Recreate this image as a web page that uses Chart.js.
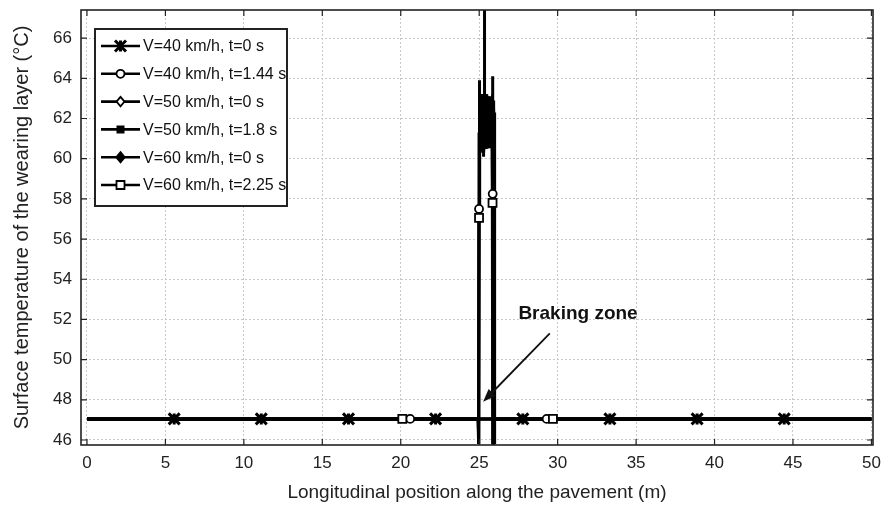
<!DOCTYPE html>
<html><head><meta charset="utf-8">
<script src="https://cdn.jsdelivr.net/npm/chart.js@4.4.1/dist/chart.umd.min.js"></script>
<style>html,body{margin:0;padding:0;background:#fff;}#wrap{width:885px;height:508px;}</style>
</head><body><div id="wrap"><canvas id="c" width="885" height="508"></canvas></div>
<script>
// ---------- data ----------
const xTicks = [0, 5, 10, 15, 20, 25, 30, 35, 40, 45, 50];
const yTicks = [46, 48, 50, 52, 54, 56, 58, 60, 62, 64, 66];
const xTitle = 'Longitudinal position along the pavement (m)';
const yTitle = 'Surface temperature of the wearing layer (°C)';
const seriesNames = ['V=40 km/h, t=0 s', 'V=40 km/h, t=1.44 s', 'V=50 km/h, t=0 s',
                     'V=50 km/h, t=1.8 s', 'V=60 km/h, t=0 s', 'V=60 km/h, t=2.25 s'];

// V=40 km/h, t=0 s
const s1x = [0, 5.56, 11.11, 16.67, 22.22, 27.78, 33.33, 38.89, 44.44, 50];
const s1y = [47.05, 47.05, 47.05, 47.05, 47.05, 47.05, 47.05, 47.05, 47.05, 47.05];
const s1mx = [5.56, 11.11, 16.67, 22.22, 27.78, 33.33, 38.89, 44.44];

// V=40 km/h, t=1.44 s
const s2x = [0, 20.6, 24.93, 24.96, 24.99, 25.0,
  25.02, 25.04, 25.06, 25.08, 25.10, 25.12, 25.14, 25.16, 25.18, 25.20, 25.22, 25.24, 25.26, 25.28,
  25.30, 25.32, 25.34, 25.36, 25.38, 25.40, 25.42, 25.44, 25.46, 25.48, 25.50, 25.52, 25.54, 25.56,
  25.58, 25.60, 25.62, 25.64, 25.66, 25.68, 25.70, 25.72, 25.74, 25.76, 25.78, 25.80, 25.82, 25.84,
  25.86, 25.88, 25.92, 29.3, 50];
const s2y = [47.05, 47.05, 47.05, 45.8, 57.5, 63.9,
  60.9, 62.9, 60.6, 63.1, 61.0, 62.8, 60.5, 63.2, 60.8, 62.9, 60.6, 63.0, 60.9, 63.2,
  60.4, 62.8, 60.7, 63.1, 60.9, 62.9, 60.5, 63.0, 60.8, 63.2, 60.6, 62.9, 61.0, 63.1,
  60.7, 62.8, 60.9, 63.0, 60.6, 62.9, 61.0, 63.1, 60.8, 62.7, 61.1, 62.9, 61.2, 63.2,
  58.25, 45.8, 47.05, 47.05, 47.05];
const s2mx = [20.6, 24.99, 25.86, 29.3];

// V=50 km/h, t=0 s
const s3x = [0, 50];
const s3y = [47.05, 47.05];
const s3mx = [];

// V=50 km/h, t=1.8 s
const s4x = [0, 24.94, 24.97, 24.99,
  25.01, 25.03, 25.05, 25.07, 25.09, 25.11, 25.13, 25.15, 25.17, 25.19, 25.21, 25.23, 25.25, 25.27,
  25.29, 25.31, 25.33, 25.35, 25.37, 25.39, 25.41, 25.43, 25.45, 25.47, 25.49, 25.51, 25.53, 25.55,
  25.57, 25.59, 25.61, 25.63, 25.65, 25.67, 25.69, 25.71, 25.73, 25.75, 25.77, 25.79, 25.81, 25.83,
  25.85, 25.87, 25.89, 25.91, 25.93, 25.95, 25.97,
  25.98, 26.0, 50];
const s4y = [47.05, 47.05, 45.8, 61.3,
  62.7, 60.8, 63.0, 60.5, 62.9, 61.0, 63.2, 60.6, 62.8, 60.9, 63.1, 60.3, 62.9, 60.1,
  62.6, 60.7, 68.0, 60.9, 63.0, 60.5, 62.8, 60.8, 63.2, 60.6, 62.9, 61.0, 63.1, 60.7,
  62.8, 60.9, 63.0, 60.6, 62.9, 61.1, 63.1, 60.8, 62.7, 61.0, 63.0, 61.2, 62.8, 61.4,
  64.1, 61.6, 62.9, 61.5, 62.6, 61.7, 62.3,
  45.8, 47.05, 47.05];
const s4mx = [];

// V=60 km/h, t=0 s
const s5x = [0, 50];
const s5y = [47.05, 47.05];
const s5mx = [];

// V=60 km/h, t=2.25 s
const s6x = [0, 20.1, 24.94, 24.97, 24.99, 25.01,
  25.03, 25.05, 25.07, 25.09, 25.11, 25.13, 25.15, 25.17, 25.19, 25.21, 25.23, 25.25, 25.27, 25.29,
  25.31, 25.33, 25.35, 25.37, 25.39, 25.41, 25.43, 25.45, 25.47, 25.49, 25.51, 25.53, 25.55, 25.57,
  25.59, 25.61, 25.63, 25.65, 25.67, 25.69, 25.71, 25.73, 25.75, 25.77, 25.79, 25.81, 25.83,
  25.85, 25.87, 25.92, 29.7, 50];
const s6y = [47.05, 47.05, 47.05, 45.8, 57.05, 61.6,
  60.4, 63.0, 60.9, 62.8, 60.6, 63.2, 61.0, 62.9, 60.5, 63.1, 60.8, 62.7, 60.3, 63.0,
  60.9, 62.9, 60.6, 63.2, 60.8, 62.8, 61.0, 63.1, 60.5, 62.9, 60.9, 63.0, 60.7, 62.8,
  61.1, 63.1, 60.8, 62.9, 61.0, 62.7, 61.2, 63.0, 61.1, 62.8, 61.3, 62.9, 61.4,
  57.8, 45.8, 47.05, 47.05, 47.05];
const s6mx = [20.1, 24.99, 25.85, 29.7];

const annotText = 'Braking zone';
const annotTextPos = [31.3, 52.3];
const arrowFrom = [29.5, 51.3];
const arrowTo = [25.25, 47.9];

// ---------- styles ----------
const markerStyles = [
  {style: 'star', r: 5.5, fill: '#000', lw: 3},
  {style: 'circle', r: 4, fill: '#fff', lw: 1.8},
  {style: 'diamond', r: 4, fill: '#fff', lw: 1.8},
  {style: 'rect', r: 3.4, fill: '#000', lw: 1.2},
  {style: 'diamond', r: 4.6, fill: '#000', lw: 1.2},
  {style: 'rect', r: 4, fill: '#fff', lw: 1.8}
];
const allX = [s1x, s2x, s3x, s4x, s5x, s6x];
const allY = [s1y, s2y, s3y, s4y, s5y, s6y];
const allM = [s1mx, s2mx, s3mx, s4mx, s5mx, s6mx];

function drawMarker(ctx, m, x, y) {
  ctx.save();
  ctx.lineWidth = m.lw;
  ctx.strokeStyle = '#000';
  ctx.fillStyle = m.fill;
  const r = m.r;
  ctx.beginPath();
  if (m.style === 'star') {
    ctx.moveTo(x - r, y - r); ctx.lineTo(x + r, y + r);
    ctx.moveTo(x - r, y + r); ctx.lineTo(x + r, y - r);
    ctx.moveTo(x, y - r); ctx.lineTo(x, y + r);
    ctx.stroke();
  } else if (m.style === 'circle') {
    ctx.arc(x, y, r, 0, Math.PI * 2); ctx.fill(); ctx.stroke();
  } else if (m.style === 'rect') {
    ctx.rect(x - r, y - r, 2 * r, 2 * r); ctx.fill(); ctx.stroke();
  } else if (m.style === 'diamond') {
    ctx.moveTo(x, y - r * 1.2); ctx.lineTo(x + r, y); ctx.lineTo(x, y + r * 1.2); ctx.lineTo(x - r, y); ctx.closePath();
    ctx.fill(); ctx.stroke();
  }
  ctx.restore();
}

const datasets = seriesNames.map((name, i) => ({
  label: name,
  data: allX[i].map((x, k) => ({x: x, y: allY[i][k]})),
  borderColor: '#000',
  borderWidth: 3,
  pointRadius: 0,
  pointHoverRadius: 0,
  tension: 0,
  fill: false,
  markerIdx: allM[i].map(mx => allX[i].indexOf(mx))
}));

const markerPlugin = {
  id: 'markers',
  afterDatasetsDraw(chart) {
    const ctx = chart.ctx, a = chart.chartArea;
    ctx.save();
    ctx.beginPath(); ctx.rect(a.left, a.top, a.right - a.left, a.bottom - a.top); ctx.clip();
    chart.data.datasets.forEach((ds, i) => {
      const meta = chart.getDatasetMeta(i);
      ds.markerIdx.forEach(k => {
        const el = meta.data[k];
        if (el) drawMarker(ctx, markerStyles[i], el.x, el.y);
      });
    });
    ctx.restore();
  }
};

const boxPlugin = {
  id: 'box',
  afterDraw(chart) {
    const ctx = chart.ctx, a = chart.chartArea;
    const xs = chart.scales.x, ys = chart.scales.y;
    ctx.save();
    ctx.strokeStyle = '#222';
    ctx.lineWidth = 1.6;
    ctx.strokeRect(a.left, a.top, a.right - a.left, a.bottom - a.top);
    ctx.lineWidth = 1.2;
    ctx.beginPath();
    xTicks.forEach(v => {
      const px = xs.getPixelForValue(v);
      ctx.moveTo(px, a.bottom); ctx.lineTo(px, a.bottom - 6);
      ctx.moveTo(px, a.top); ctx.lineTo(px, a.top + 6);
    });
    yTicks.forEach(v => {
      const py = ys.getPixelForValue(v);
      ctx.moveTo(a.left, py); ctx.lineTo(a.left + 6, py);
      ctx.moveTo(a.right, py); ctx.lineTo(a.right - 6, py);
    });
    ctx.stroke();
    ctx.restore();
  }
};

const legendPlugin = {
  id: 'customLegend',
  afterDraw(chart) {
    const ctx = chart.ctx;
    const L = 95, T = 29, W = 192, H = 177;
    ctx.save();
    ctx.fillStyle = '#fff';
    ctx.fillRect(L, T, W, H);
    ctx.strokeStyle = '#222';
    ctx.lineWidth = 2;
    ctx.strokeRect(L, T, W, H);
    ctx.font = '16px "Liberation Sans", Arial, sans-serif';
    ctx.textBaseline = 'middle';
    seriesNames.forEach((name, i) => {
      const y = 46 + i * 27.8;
      ctx.strokeStyle = '#000';
      ctx.lineWidth = 2.6;
      ctx.beginPath(); ctx.moveTo(101, y); ctx.lineTo(140, y); ctx.stroke();
      drawMarker(ctx, markerStyles[i], 120.5, y);
      ctx.fillStyle = '#111';
      ctx.fillText(name, 143, y + 1);
    });
    ctx.restore();
  }
};

const annotPlugin = {
  id: 'annot',
  afterDraw(chart) {
    const ctx = chart.ctx, xs = chart.scales.x, ys = chart.scales.y;
    const x0 = xs.getPixelForValue(arrowFrom[0]), y0 = ys.getPixelForValue(arrowFrom[1]);
    const x1 = xs.getPixelForValue(arrowTo[0]), y1 = ys.getPixelForValue(arrowTo[1]);
    ctx.save();
    ctx.strokeStyle = '#111'; ctx.fillStyle = '#111'; ctx.lineWidth = 1.8;
    const ang = Math.atan2(y1 - y0, x1 - x0);
    const hl = 13, hw = 5;
    const bx = x1 - hl * Math.cos(ang), by = y1 - hl * Math.sin(ang);
    ctx.beginPath(); ctx.moveTo(x0, y0); ctx.lineTo(bx, by); ctx.stroke();
    ctx.beginPath();
    ctx.moveTo(x1, y1);
    ctx.lineTo(bx + hw * Math.sin(ang), by - hw * Math.cos(ang));
    ctx.lineTo(bx - hw * Math.sin(ang), by + hw * Math.cos(ang));
    ctx.closePath(); ctx.fill();
    ctx.font = 'bold 19px "Liberation Sans", Arial, sans-serif';
    ctx.textAlign = 'center'; ctx.textBaseline = 'middle';
    ctx.fillText(annotText, xs.getPixelForValue(annotTextPos[0]), ys.getPixelForValue(annotTextPos[1]));
    ctx.restore();
  }
};

const tickFont = {family: '"Liberation Sans", Arial, sans-serif', size: 17};

new Chart(document.getElementById('c'), {
  type: 'line',
  data: {datasets: datasets},
  options: {
    responsive: false,
    animation: false,
    devicePixelRatio: 1,
    layout: {padding: {left: 0, right: 12, top: 10, bottom: 0}},
    plugins: {legend: {display: false}, tooltip: {enabled: false}},
    elements: {line: {borderCapStyle: 'butt', borderJoinStyle: 'miter'}},
    scales: {
      x: {
        type: 'linear', min: -0.38, max: 50.1,
        afterBuildTicks: s => { s.ticks = xTicks.map(v => ({value: v})); },
        afterFit: s => { s.height = 63; s.paddingLeft = 0; s.paddingRight = 0; },
        ticks: {font: tickFont, color: '#222', padding: 8, maxRotation: 0, autoSkip: false},
        grid: {color: '#c8c8c8', lineWidth: 1, drawTicks: false},
        border: {display: false, dash: [2, 2]},
        title: {display: true, text: xTitle, font: {family: '"Liberation Sans", Arial, sans-serif', size: 19}, color: '#222', padding: {top: 0, bottom: 4}}
      },
      y: {
        type: 'linear', min: 45.75, max: 67.4,
        afterBuildTicks: s => { s.ticks = yTicks.map(v => ({value: v})); },
        afterFit: s => { s.width = 81; s.paddingTop = 0; s.paddingBottom = 0; },
        ticks: {font: tickFont, color: '#222', padding: 9, autoSkip: false},
        grid: {color: '#c8c8c8', lineWidth: 1, drawTicks: false},
        border: {display: false, dash: [2, 2]},
        title: {display: true, text: yTitle, font: {family: '"Liberation Sans", Arial, sans-serif', size: 20}, color: '#222', padding: {top: 10, bottom: 0}}
      }
    }
  },
  plugins: [markerPlugin, boxPlugin, legendPlugin, annotPlugin]
});
</script>
</body></html>
